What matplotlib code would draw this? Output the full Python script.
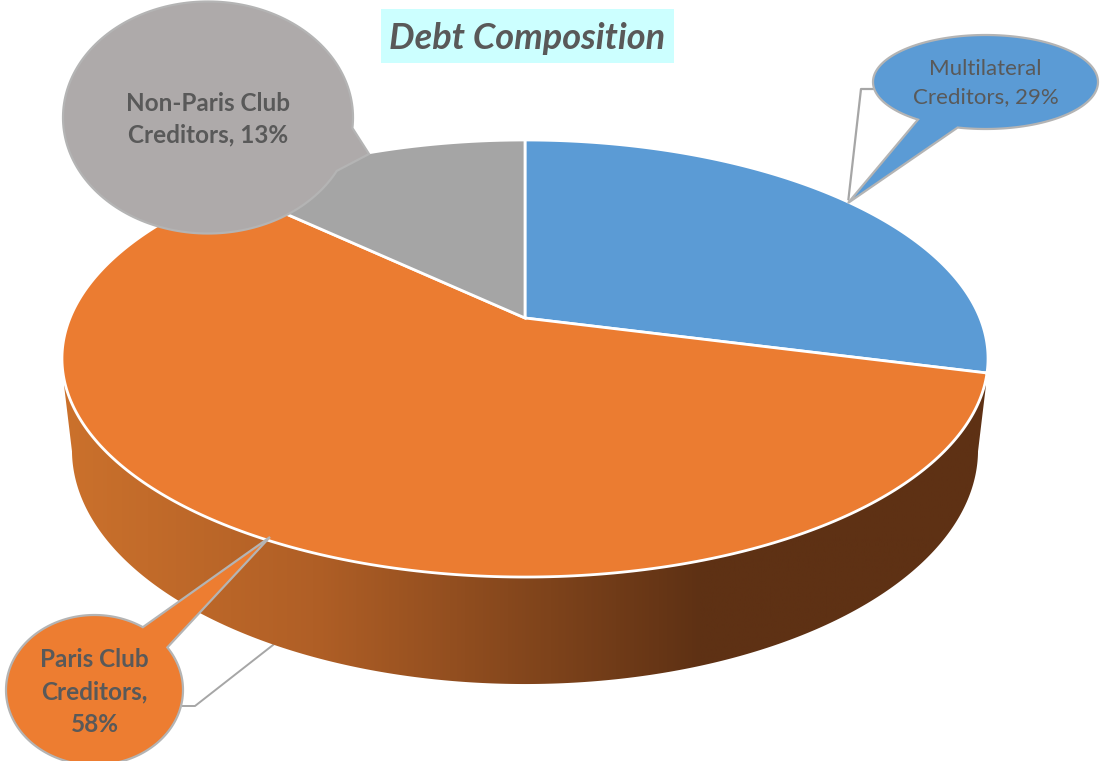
import numpy as np
import matplotlib
matplotlib.use("Agg")
import matplotlib.pyplot as plt
from matplotlib.patches import Polygon
from matplotlib.transforms import Affine2D
from matplotlib.colors import LinearSegmentedColormap

plt.rcParams['font.family'] = ['Lato', 'DejaVu Sans']

creditors = ["Multilateral", "Paris Club", "Non-Paris Club"]
shares = [29, 58, 13]
colors = ["#5B9BD5", "#EB7C31", "#A5A5A5"]
title = "Debt Composition"
TEXT = "#595959"
LINE = "#B4B4B4"

fig = plt.figure(figsize=(11.03, 7.61), dpi=100)
ax = fig.add_axes([0, 0, 1, 1])

wedges, _ = ax.pie(shares, colors=colors, startangle=90, counterclock=False)

# top of the pie is a circle seen in perspective, so the apex sits above the ellipse centre
k = 0.1854
def project(xy):
    x, y = xy[:, 0], xy[:, 1]
    d = 1 + k * y
    return np.column_stack([525 + 455 * x / d, (318 - 152.05 * y) / d])

polys = []
for w in wedges:
    # flatten at a big scale, otherwise the arc comes out in coarse segments
    pts = w.get_path().to_polygons(Affine2D().scale(2000))[0] / 2000
    polys.append(project(pts))
    w.remove()

ax.set_aspect("auto")
ax.axis("off")

# lower rim is the top outline moved down and squeezed
theta = np.radians(np.linspace(0, 360, 721))
rim = project(np.column_stack([np.cos(theta), np.sin(theta)]))
low_x = 525 + (rim[:, 0] - 525) * 453 / 463
low_y = 450 + (rim[:, 1] - 358.5) * 234 / 218.5
front = low_y >= 450
order = np.argsort(-low_x[front])
side = np.column_stack([low_x[front][order], low_y[front][order]])
side = np.vstack([[986, 385], side, [64, 385]])

# leader lines go under the pie
ax.plot([273, 195, 183], [645, 706, 706], color="#A6A6A6", lw=1.4, zorder=1)
ax.plot([848, 861, 873], [203, 89, 89], color="#A6A6A6", lw=1.6, zorder=1)

shade = LinearSegmentedColormap.from_list(
    "side", [(0, "#CB712C"), (0.27, "#B05F26"), (0.69, "#5E3114"), (1, "#5E3114")])
grad = ax.imshow(np.linspace(0, 1, 512)[None, :], cmap=shade, aspect="auto",
                 extent=[64, 988, 700, 380], zorder=2)
clip = Polygon(side, closed=True, transform=ax.transData, facecolor="none", edgecolor="none")
ax.add_patch(clip)
grad.set_clip_path(clip)
ax.set_xlim(0, 1103)
ax.set_ylim(761, 0)

for p, c in zip(polys, colors):
    ax.add_patch(Polygon(p, closed=True, facecolor=c, edgecolor="white", lw=2, zorder=3))


def bubble(cx, cy, rx, ry, j1, tip, j2, color):
    # ellipse with a pointed tail, j1 and j2 are where the tail joins
    a1 = np.arctan2((j1[1] - cy) / ry, (j1[0] - cx) / rx)
    a2 = np.arctan2((j2[1] - cy) / ry, (j2[0] - cx) / rx)
    delta = (a1 - a2) % (2 * np.pi)
    if delta < np.pi:
        delta -= 2 * np.pi
    t = a2 + np.linspace(0, delta, 200)
    arc = np.column_stack([cx + rx * np.cos(t), cy + ry * np.sin(t)])
    pts = np.vstack([arc, tip])
    ax.add_patch(Polygon(pts, closed=True, facecolor=color, edgecolor=LINE, lw=1.6,
                         joinstyle="miter", clip_on=False, zorder=4))


bubble(985.5, 82, 112.5, 47, (919, 119), (848, 203), (958, 127), colors[0])
bubble(94.5, 690, 88.5, 75, (143, 627), (270, 537), (168, 647), "#ED7D31")
bubble(208, 117.5, 145, 116, (352, 128), (369, 154), (337, 171), "#AEAAAA")

ax.text(985.5, 83, f"{creditors[0]}\nCreditors, {shares[0]}%", ha="center", va="center",
        fontsize=16, color=TEXT, linespacing=1.5, zorder=5)
ax.text(94.5, 692, f"{creditors[1]}\nCreditors,\n{shares[1]}%", ha="center", va="center",
        fontsize=17.5, fontweight="bold", color=TEXT, linespacing=1.52, zorder=5)
ax.text(208, 119, f"{creditors[2]}\nCreditors, {shares[2]}%", ha="center", va="center",
        fontsize=17.5, fontweight="bold", color=TEXT, linespacing=1.47, zorder=5)

ax.add_patch(Polygon([[381, 9], [674, 9], [674, 63], [381, 63]], closed=True,
                     facecolor="#CCFFFF", edgecolor="none", zorder=4))
ax.text(527.5, 38.5, title, ha="center", va="center", fontsize=26, fontweight="bold",
        fontstyle="italic", color=TEXT, zorder=5)

fig.savefig("out.png", dpi=100)
